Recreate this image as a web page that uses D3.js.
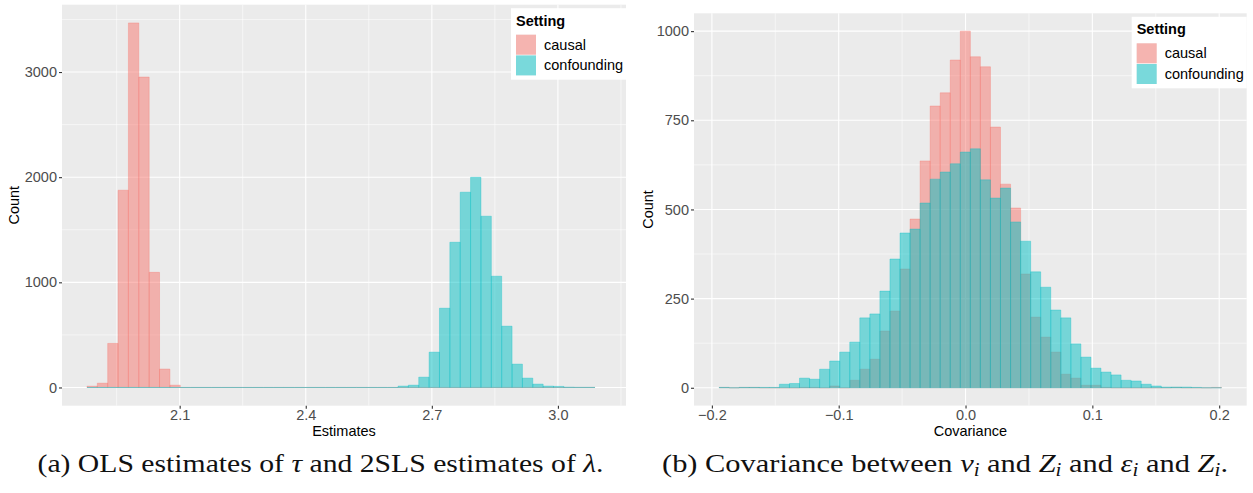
<!DOCTYPE html>
<html>
<head>
<meta charset="utf-8">
<script src="https://cdn.jsdelivr.net/npm/d3@7"></script>
<style>
  body { margin: 0; background: #fff; }
  svg { display: block; font-family: "Liberation Sans", Arial, sans-serif; }
</style>
</head>
<body>
<svg id="chart"></svg>
<script>
var settings = ["causal", "confounding"];
var settingColors = ["#F8766D", "#00BFC4"];

// (a) OLS estimates of tau / 2SLS estimates of lambda, shared bins
var estBinStart = 1.8794;
var estBinWidth = 0.02467;
var estCausal = [12, 41, 419, 1876, 3467, 2952, 1095, 175, 22, 0,
  0, 0, 0, 0, 0, 0, 0, 0, 0, 0,
  0, 0, 0, 0, 0, 0, 0, 0, 0, 0,
  0, 0, 0, 0, 0, 0, 0, 0, 0, 0,
  0, 0, 0, 0, 0, 0, 0, 0, 0];
var estConfounding = [0, 0, 0, 0, 0, 0, 0, 0, 0, 0,
  0, 0, 0, 0, 0, 0, 0, 0, 0, 0,
  0, 0, 0, 0, 0, 0, 0, 0, 0, 0,
  13, 22, 98, 336, 754, 1381, 1857, 1999, 1629, 1058,
  583, 222, 89, 32, 13, 10, 3, 1, 1];
var estLimits = [1.82, 3.162];
var estTicks = [2.1, 2.4, 2.7, 3.0];
var estTickLabels = ["2.1", "2.4", "2.7", "3.0"];
var estMinor = [1.95, 2.25, 2.55, 2.85, 3.15];
var estCountTicks = [0, 1000, 2000, 3000];
var estCountMinor = [500, 1500, 2500, 3500];

// (b) covariance between v_i and Z_i / eps_i and Z_i
var covBinStart = -0.1943;
var covBinWidth = 0.007924;
var covCausal = [1, 0, 1, 1, 0, 0, 0, 0, 1, 1,
  0, 5, 0, 21, 52, 80, 159, 215, 333, 473,
  636, 790, 827, 919, 1000, 928, 900, 731, 571, 504,
  319, 198, 142, 100, 38, 27, 7, 7, 1, 0,
  0, 0, 0, 0, 0, 1, 0, 0, 0, 1];
var covConfounding = [1, 0, 1, 1, 1, 1, 10, 12, 27, 24,
  52, 75, 100, 128, 196, 207, 271, 361, 434, 445,
  518, 585, 605, 628, 661, 670, 583, 532, 560, 465,
  411, 325, 282, 218, 196, 123, 86, 55, 44, 36,
  21, 19, 10, 5, 2, 2, 2, 1, 0, 0];
var covLimits = [-0.2141, 0.2217];
var covTicks = [-0.2, -0.1, 0, 0.1, 0.2];
var covTickLabels = ["\u22120.2", "\u22120.1", "0.0", "0.1", "0.2"];
var covMinor = [-0.15, -0.05, 0.05, 0.15];
var covCountTicks = [0, 250, 500, 750, 1000];
var covCountMinor = [125, 375, 625, 875];

var width = 1253;
var height = 493;
var sansFont = "'Liberation Sans', Arial, sans-serif";
var serifFont = "'Liberation Serif', 'Times New Roman', serif";

var svg = d3.select("#chart")
    .attr("width", width)
    .attr("height", height)
    .attr("viewBox", [0, 0, width, height]);

svg.append("rect").attr("width", width).attr("height", height).attr("fill", "#fff");

function drawPanel(opt) {
  var x = d3.scaleLinear(opt.xLimits, [opt.left, opt.right]);
  var countMax = d3.max(opt.series, s => d3.max(s));
  var pad = countMax * 0.05;
  var y = d3.scaleLinear([-pad, countMax + pad], [opt.bottom, opt.top]);

  var g = svg.append("g");

  g.append("rect")
      .attr("x", opt.left)
      .attr("y", opt.top)
      .attr("width", opt.right - opt.left)
      .attr("height", opt.bottom - opt.top)
      .attr("fill", "#EBEBEB");

  // grid
  g.append("g").selectAll("line")
    .data(opt.xMinor)
    .join("line")
      .attr("x1", d => x(d)).attr("x2", d => x(d))
      .attr("y1", opt.top).attr("y2", opt.bottom)
      .attr("stroke", "#fff").attr("stroke-width", 0.55);
  g.append("g").selectAll("line")
    .data(opt.yMinor)
    .join("line")
      .attr("y1", d => y(d)).attr("y2", d => y(d))
      .attr("x1", opt.left).attr("x2", opt.right)
      .attr("stroke", "#fff").attr("stroke-width", 0.55);
  g.append("g").selectAll("line")
    .data(opt.xTicks)
    .join("line")
      .attr("x1", d => x(d)).attr("x2", d => x(d))
      .attr("y1", opt.top).attr("y2", opt.bottom)
      .attr("stroke", "#fff").attr("stroke-width", 1.1);
  g.append("g").selectAll("line")
    .data(opt.yTicks)
    .join("line")
      .attr("y1", d => y(d)).attr("y2", d => y(d))
      .attr("x1", opt.left).attr("x2", opt.right)
      .attr("stroke", "#fff").attr("stroke-width", 1.1);

  // histograms, causal first, confounding on top
  opt.series.forEach(function(counts, si) {
    var bins = counts.map((c, i) => ({
      x0: opt.binStart + i * opt.binWidth,
      x1: opt.binStart + (i + 1) * opt.binWidth,
      count: c
    }));
    g.append("g")
      .selectAll("path")
      .data(bins)
      .join("path")
        .attr("d", d => "M" + x(d.x0) + "," + y(0) + "V" + y(d.count) + "H" + x(d.x1) + "V" + y(0) + "Z")
        .attr("fill", settingColors[si])
        .attr("fill-opacity", 0.5)
        .attr("stroke", settingColors[si])
        .attr("stroke-opacity", 0.55)
        .attr("stroke-width", 0.6);
  });

  var yAxis = d3.axisLeft(y).tickValues(opt.yTicks).tickSize(3).tickPadding(2)
      .tickFormat(d3.format("d"));
  g.append("g")
      .attr("transform", `translate(${opt.left},0)`)
      .call(yAxis)
      .call(a => a.select(".domain").remove())
      .call(a => a.attr("font-family", sansFont).attr("font-size", "14.5px"))
      .call(a => a.selectAll(".tick line").attr("stroke", "#333").attr("stroke-width", 1.1))
      .call(a => a.selectAll(".tick text").attr("fill", "#4D4D4D"));

  var xAxis = d3.axisBottom(x).tickValues(opt.xTicks).tickSize(3).tickPadding(1)
      .tickFormat((d, i) => opt.xTickLabels[i]);
  g.append("g")
      .attr("transform", `translate(0,${opt.bottom})`)
      .call(xAxis)
      .call(a => a.select(".domain").remove())
      .call(a => a.attr("font-family", sansFont).attr("font-size", "14.5px"))
      .call(a => a.selectAll(".tick line").attr("stroke", "#333").attr("stroke-width", 1.1))
      .call(a => a.selectAll(".tick text").attr("fill", "#4D4D4D"));

  g.append("text")
      .attr("x", (opt.left + opt.right) / 2)
      .attr("y", opt.bottom + 30)
      .attr("text-anchor", "middle")
      .attr("font-size", "14.5px")
      .text(opt.xTitle);

  g.append("text")
      .attr("transform", `translate(${opt.yTitleX},${(opt.top + opt.bottom) / 2}) rotate(-90)`)
      .attr("text-anchor", "middle")
      .attr("font-size", "14.5px")
      .text("Count");

  // legend in the top right corner
  var lx = opt.right - 115;
  var ly = opt.top + 3.5;
  var legend = g.append("g").attr("transform", `translate(${lx},${ly})`);
  legend.append("rect")
      .attr("width", 115).attr("height", 71.5)
      .attr("fill", "#fff");
  legend.append("text")
      .attr("x", 5).attr("y", 17.5)
      .attr("font-size", "14.5px")
      .attr("font-weight", "bold")
      .text("Setting");
  var item = legend.selectAll(".item")
    .data(settings)
    .join("g")
      .attr("class", "item")
      .attr("transform", (d, i) => `translate(5,${26.5 + i * 20.7})`);
  item.append("rect")
      .attr("width", 20).attr("height", 20)
      .attr("fill", "#F2F2F2");
  item.append("rect")
      .attr("width", 20).attr("height", 20)
      .attr("fill", (d, i) => settingColors[i])
      .attr("fill-opacity", 0.5);
  item.append("text")
      .attr("x", 28).attr("y", 15)
      .attr("font-size", "14.5px")
      .text(d => d);
}

drawPanel({
  left: 62, right: 626, top: 4.7, bottom: 405.7,
  xLimits: estLimits, xTicks: estTicks, xTickLabels: estTickLabels, xMinor: estMinor,
  yTicks: estCountTicks, yMinor: estCountMinor,
  binStart: estBinStart, binWidth: estBinWidth,
  series: [estCausal, estConfounding],
  xTitle: "Estimates", yTitleX: 19
});

drawPanel({
  left: 694, right: 1246.7, top: 13.3, bottom: 405.6,
  xLimits: covLimits, xTicks: covTicks, xTickLabels: covTickLabels, xMinor: covMinor,
  yTicks: covCountTicks, yMinor: covCountMinor,
  binStart: covBinStart, binWidth: covBinWidth,
  series: [covCausal, covConfounding],
  xTitle: "Covariance", yTitleX: 653
});

// captions under the panels
function caption(cx, parts) {
  var t = svg.append("text")
      .attr("x", cx)
      .attr("y", 472)
      .attr("text-anchor", "middle")
      .attr("font-family", serifFont)
      .attr("font-size", "26px")
      .attr("fill", "#111")
      .attr("textLength", 566)
      .attr("lengthAdjust", "spacingAndGlyphs");
  parts.forEach(function(p) {
    var s = t.append("tspan").text(p.t);
    if (p.it) s.attr("font-style", "italic");
    if (p.sub) s.attr("font-size", "18px").attr("dy", 4);
    if (p.up) s.attr("dy", -4);
  });
}

caption(320.5, [
  {t: "(a) OLS estimates of "}, {t: "\u03C4", it: true},
  {t: " and 2SLS estimates of "}, {t: "\u03BB", it: true}, {t: "."}
]);

caption(945, [
  {t: "(b) Covariance between "}, {t: "v", it: true}, {t: "i", it: true, sub: true},
  {t: " and ", up: true}, {t: "Z", it: true}, {t: "i", it: true, sub: true},
  {t: " and ", up: true}, {t: "\u03B5", it: true}, {t: "i", it: true, sub: true},
  {t: " and ", up: true}, {t: "Z", it: true}, {t: "i", it: true, sub: true},
  {t: ".", up: true}
]);
</script>
</body>
</html>
